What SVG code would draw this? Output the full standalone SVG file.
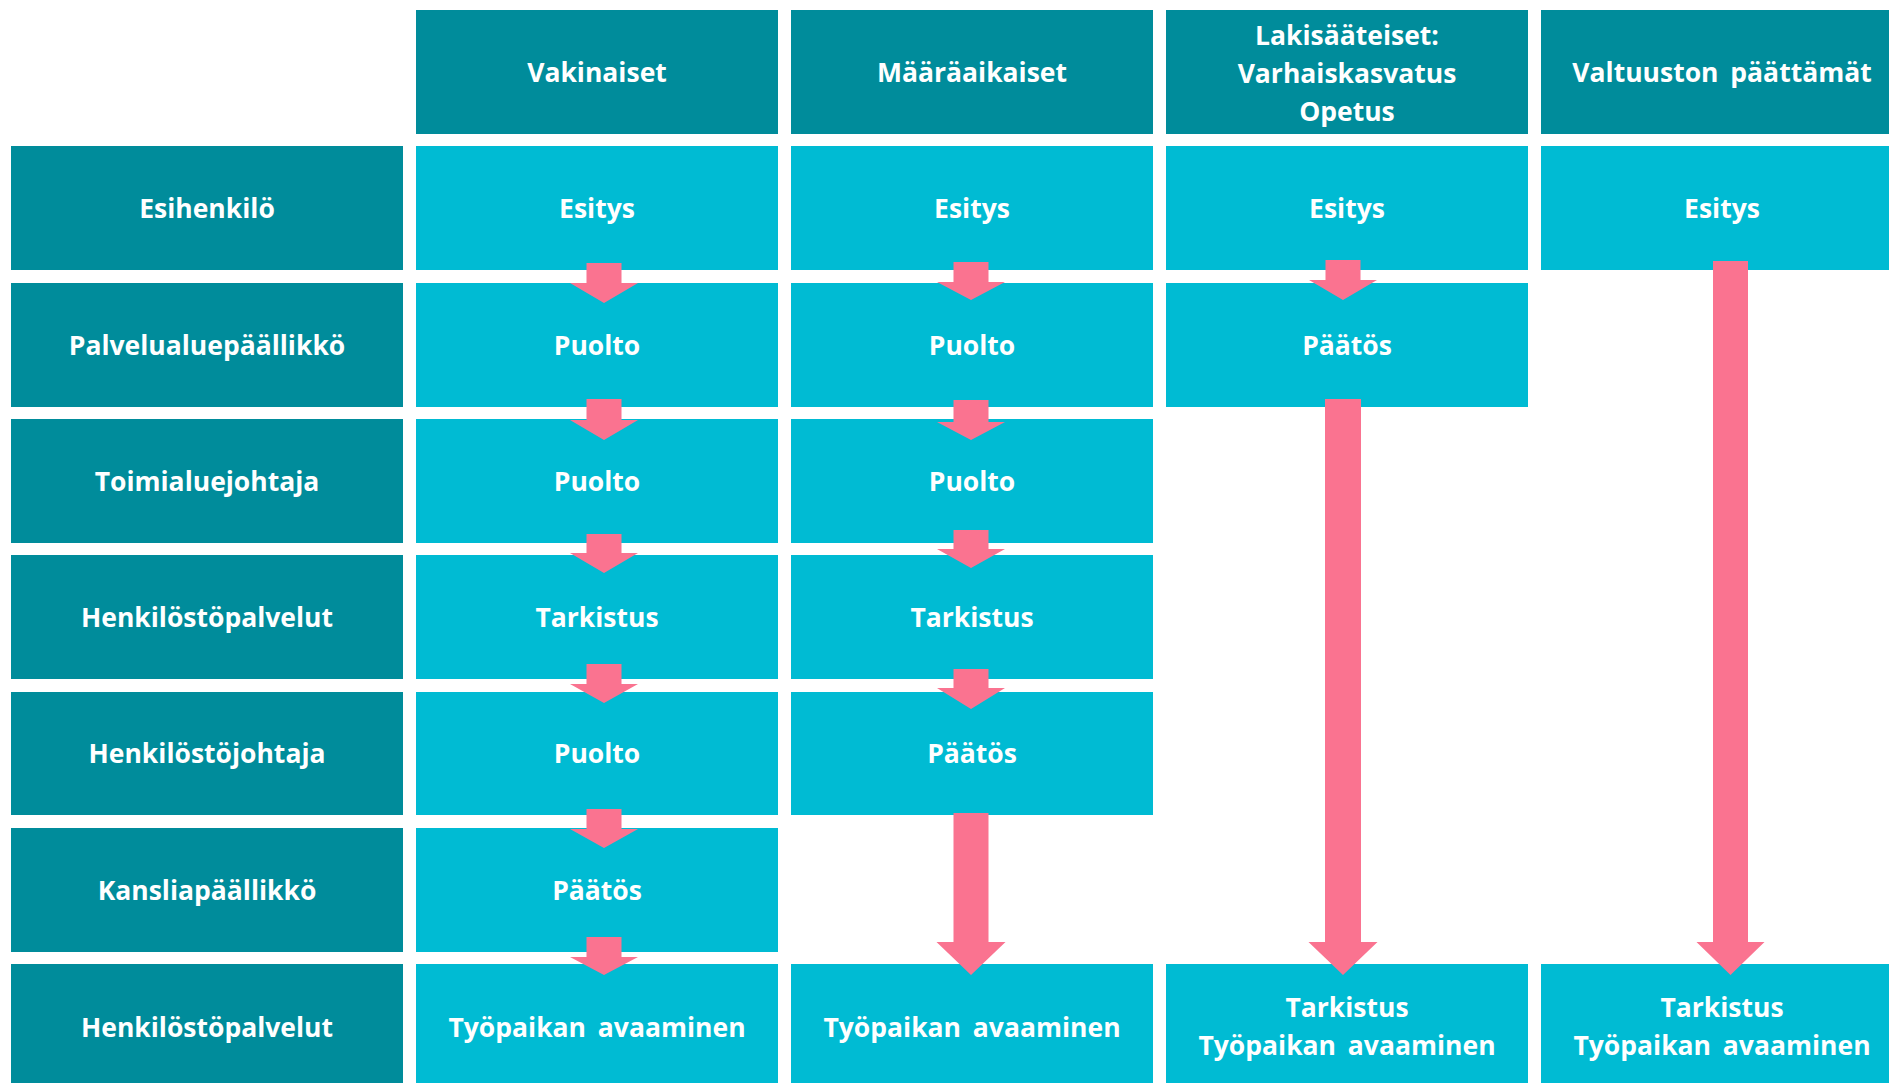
<svg xmlns="http://www.w3.org/2000/svg" width="1889" height="1083" viewBox="0 0 1889 1083">
<style>
.hd{fill:#008C9B}
.cl{fill:#00BBD3}
.ar{fill:#FA7390}
text{font-family:"Open Sans",Lato,"Liberation Sans",sans-serif;font-weight:700;font-size:26.5px;fill:#FFFFFF;text-anchor:middle}
</style>
<rect width="1889" height="1083" fill="#FFFFFF"/>
<g id="headers">
<g id="h-vakinaiset"><rect class="hd" x="416" y="10" width="362" height="124"/><text x="597" y="82">Vakinaiset</text></g>
<g id="h-maaraaikaiset"><rect class="hd" x="791" y="10" width="362" height="124"/><text x="972" y="82">Määräaikaiset</text></g>
<g id="h-lakisaateiset"><rect class="hd" x="1166" y="10" width="362" height="124"/><text x="1347" y="45">Lakisääteiset:</text><text x="1347" y="83">Varhaiskasvatus</text><text x="1347" y="121">Opetus</text></g>
<g id="h-valtuusto"><rect class="hd" x="1541" y="10" width="362" height="124"/><text x="1722" y="82" word-spacing="5">Valtuuston päättämät</text></g>
</g>
<g id="rowlabels">
<g id="r1"><rect class="hd" x="11" y="146" width="392" height="124"/><text x="207" y="218">Esihenkilö</text></g>
<g id="r2"><rect class="hd" x="11" y="283" width="392" height="124"/><text x="207" y="355">Palvelualuepäällikkö</text></g>
<g id="r3"><rect class="hd" x="11" y="419" width="392" height="124"/><text x="207" y="491">Toimialuejohtaja</text></g>
<g id="r4"><rect class="hd" x="11" y="555" width="392" height="124"/><text x="207" y="627">Henkilöstöpalvelut</text></g>
<g id="r5"><rect class="hd" x="11" y="692" width="392" height="123"/><text x="207" y="763">Henkilöstöjohtaja</text></g>
<g id="r6"><rect class="hd" x="11" y="828" width="392" height="124"/><text x="207" y="900">Kansliapäällikkö</text></g>
<g id="r7"><rect class="hd" x="11" y="964" width="392" height="124"/><text x="207" y="1037">Henkilöstöpalvelut</text></g>
</g>
<g id="col1">
<g id="c1r1"><rect class="cl" x="416" y="146" width="362" height="124"/><text x="597" y="218">Esitys</text></g>
<g id="c1r2"><rect class="cl" x="416" y="283" width="362" height="124"/><text x="597" y="355">Puolto</text></g>
<g id="c1r3"><rect class="cl" x="416" y="419" width="362" height="124"/><text x="597" y="491">Puolto</text></g>
<g id="c1r4"><rect class="cl" x="416" y="555" width="362" height="124"/><text x="597" y="627">Tarkistus</text></g>
<g id="c1r5"><rect class="cl" x="416" y="692" width="362" height="123"/><text x="597" y="763">Puolto</text></g>
<g id="c1r6"><rect class="cl" x="416" y="828" width="362" height="124"/><text x="597" y="900">Päätös</text></g>
<g id="c1r7"><rect class="cl" x="416" y="964" width="362" height="124"/><text x="597" y="1037" word-spacing="5">Työpaikan avaaminen</text></g>
</g>
<g id="col2">
<g id="c2r1"><rect class="cl" x="791" y="146" width="362" height="124"/><text x="972" y="218">Esitys</text></g>
<g id="c2r2"><rect class="cl" x="791" y="283" width="362" height="124"/><text x="972" y="355">Puolto</text></g>
<g id="c2r3"><rect class="cl" x="791" y="419" width="362" height="124"/><text x="972" y="491">Puolto</text></g>
<g id="c2r4"><rect class="cl" x="791" y="555" width="362" height="124"/><text x="972" y="627">Tarkistus</text></g>
<g id="c2r5"><rect class="cl" x="791" y="692" width="362" height="123"/><text x="972" y="763">Päätös</text></g>
<g id="c2r7"><rect class="cl" x="791" y="964" width="362" height="124"/><text x="972" y="1037" word-spacing="5">Työpaikan avaaminen</text></g>
</g>
<g id="col3">
<g id="c3r1"><rect class="cl" x="1166" y="146" width="362" height="124"/><text x="1347" y="218">Esitys</text></g>
<g id="c3r2"><rect class="cl" x="1166" y="283" width="362" height="124"/><text x="1347" y="355">Päätös</text></g>
<g id="c3r7"><rect class="cl" x="1166" y="964" width="362" height="124"/><text x="1347" y="1017">Tarkistus</text><text x="1347" y="1055" word-spacing="5">Työpaikan avaaminen</text></g>
</g>
<g id="col4">
<g id="c4r1"><rect class="cl" x="1541" y="146" width="362" height="124"/><text x="1722" y="218">Esitys</text></g>
<g id="c4r7"><rect class="cl" x="1541" y="964" width="362" height="124"/><text x="1722" y="1017">Tarkistus</text><text x="1722" y="1055" word-spacing="5">Työpaikan avaaminen</text></g>
</g>
<g id="connectors">
<polygon class="ar" points="586.5,263 621.5,263 621.5,283 638,283 604,303 570,283 586.5,283"/>
<polygon class="ar" points="586.5,399 621.5,399 621.5,420 638,420 604,440 570,420 586.5,420"/>
<polygon class="ar" points="586.5,534 621.5,534 621.5,553 638,553 604,573 570,553 586.5,553"/>
<polygon class="ar" points="586.5,664 621.5,664 621.5,684 638,684 604,703 570,684 586.5,684"/>
<polygon class="ar" points="586.5,809 621.5,809 621.5,829 638,829 604,848 570,829 586.5,829"/>
<polygon class="ar" points="586.5,937 621.5,937 621.5,957 638,957 604,975 570,957 586.5,957"/>
<polygon class="ar" points="953.5,262 988.5,262 988.5,282 1005,282 971,300 937,282 953.5,282"/>
<polygon class="ar" points="953.5,400 988.5,400 988.5,422 1005,422 971,440 937,422 953.5,422"/>
<polygon class="ar" points="953.5,530 988.5,530 988.5,549 1005,549 971,568 937,549 953.5,549"/>
<polygon class="ar" points="953.5,669 988.5,669 988.5,688 1005,688 971,709 937,688 953.5,688"/>
<polygon class="ar" points="953.5,813 988.5,813 988.5,942 1005.5,942 971,975 936.5,942 953.5,942"/>
<polygon class="ar" points="1325.5,260 1360.5,260 1360.5,280 1377,280 1343,300 1309,280 1325.5,280"/>
<polygon class="ar" points="1325,399 1361,399 1361,942 1377.5,942 1343,975 1308.5,942 1325,942"/>
<polygon class="ar" points="1713,261 1748,261 1748,942 1764.5,942 1730.5,975 1696.5,942 1713,942"/>
</g>
</svg>
